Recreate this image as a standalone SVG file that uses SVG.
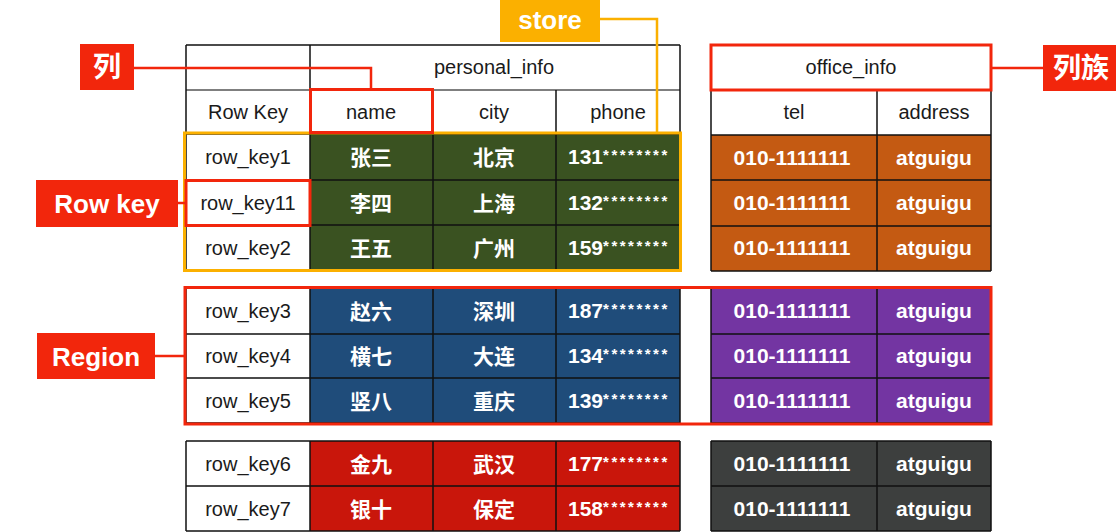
<svg xmlns="http://www.w3.org/2000/svg" width="1116" height="532" viewBox="0 0 1116 532">
<style>
.hd{font-family:"Liberation Sans",Arial,sans-serif;font-size:20px;fill:#1a1a1a;text-anchor:middle}
.rk{font-family:"Liberation Sans",Arial,sans-serif;font-size:20px;fill:#1a1a1a;text-anchor:middle}
.cv{font-family:"Liberation Sans","Noto Sans CJK SC",sans-serif;font-size:21px;font-weight:bold;fill:#ffffff;text-anchor:middle}
.cn{font-family:"Liberation Sans","Noto Sans CJK SC",sans-serif;font-size:21px;font-weight:bold;fill:#ffffff;text-anchor:middle}
.ph{font-family:"Liberation Sans",Arial,sans-serif;font-size:21px;font-weight:bold;fill:#ffffff}
.st{font-family:"Liberation Sans",Arial,sans-serif;font-size:15px;font-weight:bold;fill:#ffffff;letter-spacing:2.5px}
.grid{stroke:#111111;stroke-width:1.5;fill:none}
.hl{fill:none;stroke:#f2260c;stroke-width:3}
.lbl{fill:#f2260c}
.lt{font-family:"Liberation Sans","Noto Sans CJK SC",sans-serif;font-size:26px;font-weight:bold;fill:#ffffff;text-anchor:middle}
.con{fill:none;stroke:#f2260c;stroke-width:2.5}
.cono{fill:none;stroke:#fbb000;stroke-width:2.5}
</style>
<rect width="1116" height="532" fill="#ffffff"/>

<g id="table-personal">
  <rect x="310" y="134" width="370" height="136" fill="#3a5221"/>
  <rect x="310" y="288" width="370" height="135" fill="#1f4c7a"/>
  <rect x="310" y="441" width="370" height="90" fill="#c9160b"/>
  <g class="grid">
    <path d="M186 45H680M186 134H680M186 180H680M186 225H680M186 270H680"/>
    <path d="M186 90H680" stroke="#555"/>
    <path d="M186 45V270M310 45V270M433 90V270M556 90V270M680 45V270"/>
    <path d="M186 288H680M186 334H680M186 378H680M186 423H680M186 288V423M310 288V423M433 288V423M556 288V423M680 288V423"/>
    <path d="M186 441H680M186 486H680M186 531H680M186 441V531M310 441V531M433 441V531M556 441V531M680 441V531"/>
  </g>
  <text class="hd" x="494" y="74">personal_info</text>
  <text class="hd" x="248" y="119">Row Key</text>
  <text class="hd" x="371" y="119">name</text>
  <text class="hd" x="494" y="119">city</text>
  <text class="hd" x="618" y="119">phone</text>
  <text class="rk" x="248" y="164">row_key1</text>
  <text class="rk" x="248" y="210">row_key11</text>
  <text class="rk" x="248" y="255">row_key2</text>
  <text class="rk" x="248" y="318">row_key3</text>
  <text class="rk" x="248" y="363">row_key4</text>
  <text class="rk" x="248" y="408">row_key5</text>
  <text class="rk" x="248" y="471">row_key6</text>
  <text class="rk" x="248" y="516">row_key7</text>
  <text class="cn" x="371" y="165">张三</text><text class="cn" x="494" y="165">北京</text>
  <text class="cn" x="371" y="211">李四</text><text class="cn" x="494" y="211">上海</text>
  <text class="cn" x="371" y="256">王五</text><text class="cn" x="494" y="256">广州</text>
  <text class="cn" x="371" y="319">赵六</text><text class="cn" x="494" y="319">深圳</text>
  <text class="cn" x="371" y="364">横七</text><text class="cn" x="494" y="364">大连</text>
  <text class="cn" x="371" y="409">竖八</text><text class="cn" x="494" y="409">重庆</text>
  <text class="cn" x="371" y="472">金九</text><text class="cn" x="494" y="472">武汉</text>
  <text class="cn" x="371" y="517">银十</text><text class="cn" x="494" y="517">保定</text>
  <text class="ph" x="568" y="164">131<tspan class="st" dy="-4">********</tspan></text>
  <text class="ph" x="568" y="210">132<tspan class="st" dy="-4">********</tspan></text>
  <text class="ph" x="568" y="255">159<tspan class="st" dy="-4">********</tspan></text>
  <text class="ph" x="568" y="318">187<tspan class="st" dy="-4">********</tspan></text>
  <text class="ph" x="568" y="363">134<tspan class="st" dy="-4">********</tspan></text>
  <text class="ph" x="568" y="408">139<tspan class="st" dy="-4">********</tspan></text>
  <text class="ph" x="568" y="471">177<tspan class="st" dy="-4">********</tspan></text>
  <text class="ph" x="568" y="516">158<tspan class="st" dy="-4">********</tspan></text>
</g>

<g id="table-office">
  <rect x="711" y="135" width="280" height="136" fill="#c45a12"/>
  <rect x="711" y="288" width="280" height="135" fill="#7335a2"/>
  <rect x="711" y="441" width="280" height="90" fill="#3d3f3e"/>
  <g class="grid">
    <path d="M711 45H991M711 90H991M711 135H991M711 180H991M711 226H991M711 271H991M711 45V271M877 90V271M991 45V271"/>
    <path d="M711 288H991M711 334H991M711 378H991M711 423H991M711 288V423M877 288V423M991 288V423"/>
    <path d="M711 441H991M711 486H991M711 531H991M711 441V531M877 441V531M991 441V531"/>
  </g>
  <text class="hd" x="851" y="74">office_info</text>
  <text class="hd" x="794" y="119">tel</text>
  <text class="hd" x="934" y="119">address</text>
  <text class="cv" x="792" y="165">010-1111111</text><text class="cv" x="934" y="165">atguigu</text>
  <text class="cv" x="792" y="210">010-1111111</text><text class="cv" x="934" y="210">atguigu</text>
  <text class="cv" x="792" y="255">010-1111111</text><text class="cv" x="934" y="255">atguigu</text>
  <text class="cv" x="792" y="318">010-1111111</text><text class="cv" x="934" y="318">atguigu</text>
  <text class="cv" x="792" y="363">010-1111111</text><text class="cv" x="934" y="363">atguigu</text>
  <text class="cv" x="792" y="408">010-1111111</text><text class="cv" x="934" y="408">atguigu</text>
  <text class="cv" x="792" y="471">010-1111111</text><text class="cv" x="934" y="471">atguigu</text>
  <text class="cv" x="792" y="516">010-1111111</text><text class="cv" x="934" y="516">atguigu</text>
</g>

<g id="highlights">
  <rect x="184.5" y="133" width="496" height="137.5" fill="none" stroke="#fbb000" stroke-width="3"/>
  <rect class="hl" x="310.5" y="89.5" width="122" height="43"/>
  <rect class="hl" x="186" y="180.5" width="124" height="45"/>
  <rect class="hl" x="711" y="45" width="280" height="45"/>
  <rect class="hl" x="185" y="287.5" width="806" height="136.5"/>
</g>

<g id="connectors">
  <polyline class="cono" points="600,19 657,19 657,133"/>
  <polyline class="con" points="134,68 371,68 371,89"/>
  <line class="con" x1="178" y1="203" x2="186" y2="203"/>
  <line class="con" x1="155" y1="356" x2="185" y2="356"/>
  <line class="con" x1="991" y1="68" x2="1043" y2="68"/>
</g>

<g id="label-store">
  <rect x="500" y="0" width="100" height="42" fill="#fbb000"/>
  <text class="lt" x="550" y="29">store</text>
</g>
<g id="label-column">
  <rect class="lbl" x="80" y="44" width="54" height="46"/>
  <text class="lt" x="107" y="77" style="font-size:28px">列</text>
</g>
<g id="label-rowkey">
  <rect class="lbl" x="36" y="180" width="142" height="47"/>
  <text class="lt" x="107" y="213">Row key</text>
</g>
<g id="label-region">
  <rect class="lbl" x="37" y="333" width="118" height="46"/>
  <text class="lt" x="96" y="366">Region</text>
</g>
<g id="label-family">
  <rect class="lbl" x="1043" y="45" width="80" height="46"/>
  <text class="lt" x="1081" y="78" style="font-size:28px">列族</text>
</g>
</svg>
